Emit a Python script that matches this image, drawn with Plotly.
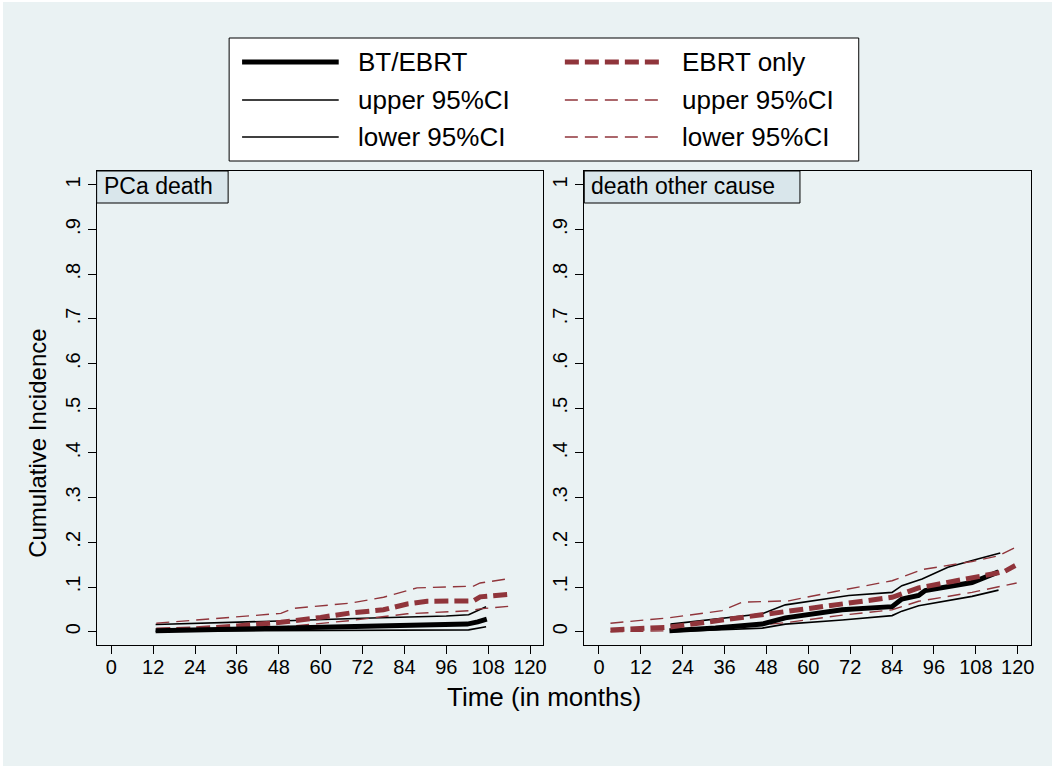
import plotly.graph_objects as go

# ---------------- data ----------------
# Panel 1: PCa death
pca_bt_t = [12.7, 24, 36, 48, 60, 72, 84, 96, 102, 105, 107.6]
pca_bt_v = [0.002, 0.004, 0.005, 0.007, 0.009, 0.011, 0.013, 0.015, 0.017, 0.022, 0.028]
pca_bt_up_t = [12.7, 24, 48, 72, 96, 102.4, 107.4]
pca_bt_up_v = [0.016, 0.019, 0.024, 0.030, 0.035, 0.038, 0.056]
pca_bt_lo_t = [12.7, 48, 84, 102.4, 107.4]
pca_bt_lo_v = [0.001, 0.002, 0.003, 0.004, 0.011]

pca_eb_t = [12.9, 23.8, 36, 48.6, 60, 68.6, 78, 84.8, 90.5, 103.8, 105.7, 114.3]
pca_eb_v = [0.004, 0.006, 0.013, 0.021, 0.032, 0.042, 0.049, 0.062, 0.068, 0.069, 0.078, 0.084]
pca_eb_up_t = [12.9, 22.9, 35, 48.6, 52, 68.6, 78, 84, 87.6, 103.8, 105.7, 114.3]
pca_eb_up_v = [0.019, 0.025, 0.032, 0.041, 0.052, 0.064, 0.077, 0.090, 0.098, 0.102, 0.109, 0.119]
pca_eb_lo_t = [12.9, 35, 48.6, 68.6, 84.8, 103, 105.7, 114.3]
pca_eb_lo_v = [0.000, 0.004, 0.010, 0.025, 0.040, 0.047, 0.051, 0.057]

# Panel 2: death other cause
oth_bt_t = [20.2, 33.4, 46.8, 53.4, 69.7, 84, 86.8, 91.6, 93.5, 100, 106.9, 114.5]
oth_bt_v = [0.002, 0.008, 0.017, 0.031, 0.049, 0.056, 0.073, 0.081, 0.092, 0.100, 0.110, 0.134]
oth_bt_up_t = [20.5, 36.3, 46.8, 53.4, 71.6, 84, 86.8, 92.6, 100, 108.8, 115]
oth_bt_up_v = [0.017, 0.031, 0.040, 0.060, 0.081, 0.088, 0.103, 0.118, 0.144, 0.163, 0.176]
oth_bt_lo_t = [20.5, 36.3, 46.8, 53.4, 69.7, 84, 86.8, 91.6, 106.9, 114.5]
oth_bt_lo_v = [0.000, 0.004, 0.008, 0.017, 0.026, 0.036, 0.046, 0.058, 0.079, 0.093]

oth_eb_t = [3.3, 20, 35.3, 46.8, 54.4, 68.7, 84, 91.6, 103, 109.7, 116, 119.3]
oth_eb_v = [0.004, 0.010, 0.026, 0.038, 0.045, 0.062, 0.077, 0.098, 0.114, 0.125, 0.134, 0.148]
oth_eb_up_t = [3.3, 20, 35.3, 41, 54.4, 67.7, 84, 92.6, 106.9, 114.5, 119.7]
oth_eb_up_v = [0.019, 0.031, 0.047, 0.066, 0.069, 0.090, 0.114, 0.139, 0.157, 0.170, 0.190]
oth_eb_lo_t = [3.3, 20, 35.3, 46.8, 54.4, 68.7, 84, 91.6, 106.9, 116, 119.7]
oth_eb_lo_v = [0.000, 0.002, 0.010, 0.015, 0.021, 0.036, 0.049, 0.068, 0.088, 0.103, 0.109]

panel_titles = ["PCa death", "death other cause"]
legend_labels = ["BT/EBRT", "upper 95%CI", "lower 95%CI", "EBRT only", "upper 95%CI", "lower 95%CI"]
x_ticks = list(range(0, 121, 12))
y_ticks = [0, 0.1, 0.2, 0.3, 0.4, 0.5, 0.6, 0.7, 0.8, 0.9, 1.0]
y_ticklabels = ["0", ".1", ".2", ".3", ".4", ".5", ".6", ".7", ".8", ".9", "1"]

# ---------------- styling ----------------
W, H = 1059, 769
BG = "#EAF2F3"
MAROON = "#90353B"
FONT = "Liberation Sans, Arial, sans-serif"

def px(x):
    return x / W

def py(y):
    return 1 - y / H

XR = [-4.2, 123.7]
YR = [-0.0298, 1.031]
xpm = 3.503  # px per month
left0 = 97.0
right0 = 586.5
pw = (XR[1] - XR[0]) * xpm
top_px, bot_px = 171.0, 645.0

fig = go.Figure()

styles = {
    "bt": dict(color="black", width=5, dash="solid"),
    "bt_ci": dict(color="black", width=1.6, dash="solid"),
    "eb": dict(color=MAROON, width=5, dash="14px,6px"),
    "eb_ci": dict(color=MAROON, width=1.4, dash="13px,7px"),
}

panels = [
    ("x", "y", [(pca_bt_up_t, pca_bt_up_v, "bt_ci", "upper 95%CI"),
                (pca_bt_lo_t, pca_bt_lo_v, "bt_ci", "lower 95%CI"),
                (pca_eb_up_t, pca_eb_up_v, "eb_ci", "upper 95%CI"),
                (pca_eb_lo_t, pca_eb_lo_v, "eb_ci", "lower 95%CI"),
                (pca_eb_t, pca_eb_v, "eb", "EBRT only"),
                (pca_bt_t, pca_bt_v, "bt", "BT/EBRT")]),
    ("x2", "y2", [(oth_bt_up_t, oth_bt_up_v, "bt_ci", "upper 95%CI"),
                  (oth_bt_lo_t, oth_bt_lo_v, "bt_ci", "lower 95%CI"),
                  (oth_eb_up_t, oth_eb_up_v, "eb_ci", "upper 95%CI"),
                  (oth_eb_lo_t, oth_eb_lo_v, "eb_ci", "lower 95%CI"),
                  (oth_bt_t, oth_bt_v, "bt", "BT/EBRT"),
                  (oth_eb_t, oth_eb_v, "eb", "EBRT only")]),
]
for xa, ya, series in panels:
    for t, v, st, name in series:
        fig.add_trace(go.Scatter(x=t, y=v, mode="lines", name=name, line=styles[st],
                                 xaxis=xa, yaxis=ya, showlegend=False, hoverinfo="skip"))

axis_common = dict(showline=True, linecolor="black", linewidth=1, mirror=True,
                   ticks="outside", ticklen=8, tickcolor="black", tickwidth=1,
                   zeroline=False, tickfont=dict(family=FONT, size=20, color="black"))

for i, (xa, ya) in enumerate([("xaxis", "yaxis"), ("xaxis2", "yaxis2")]):
    lpx = left0 if i == 0 else right0
    xdom = [px(lpx), px(lpx + pw)]
    ydom = [py(bot_px), py(top_px)]
    xkw = dict(axis_common, domain=xdom, range=XR, tickvals=x_ticks,
               ticktext=[str(t) for t in x_ticks], showgrid=False,
               ticklabelstandoff=-4, anchor="y" if i == 0 else "y2")
    ykw = dict(axis_common, domain=ydom, range=YR, tickvals=y_ticks,
               ticktext=y_ticklabels, tickangle=-90, showgrid=True,
               gridcolor=BG, gridwidth=1, anchor="x" if i == 0 else "x2")
    fig.update_layout(**{xa: xkw, ya: ykw})

shapes = []
annotations = []

# background inner panel (outer white edge)
shapes.append(dict(type="rect", xref="paper", yref="paper", x0=px(3), x1=px(W - 3),
                   y0=py(H - 3), y1=py(2), fillcolor=BG, line=dict(width=0), layer="below"))

# strip headers
strip_right = [229.0, 803.0]
for i, title in enumerate(panel_titles):
    lpx = left0 if i == 0 else right0
    shapes.append(dict(type="rect", xref="paper", yref="paper", x0=px(lpx), x1=px(strip_right[i]),
                       y0=py(203), y1=py(top_px), fillcolor="#D9E6EB",
                       line=dict(color="black", width=1), layer="above"))
    annotations.append(dict(xref="paper", yref="paper", x=px(lpx + 5), y=py(186),
                            xanchor="left", yanchor="middle", text=title, showarrow=False,
                            font=dict(family=FONT, size=23, color="black")))

# axis titles
annotations.append(dict(xref="paper", yref="paper", x=px(546), y=py(697), text="Time (in months)",
                        showarrow=False, xanchor="center", yanchor="middle",
                        font=dict(family=FONT, size=26, color="black")))
annotations.append(dict(xref="paper", yref="paper", x=px(37), y=py(443), text="Cumulative Incidence",
                        showarrow=False, xanchor="center", yanchor="middle", textangle=-90,
                        font=dict(family=FONT, size=24, color="black")))

# legend box
shapes.append(dict(type="rect", xref="paper", yref="paper", x0=px(230), x1=px(862),
                   y0=py(161), y1=py(38), fillcolor="white", line=dict(color="black", width=1)))
rows_y = [62, 100, 137]
leg_styles = ["bt", "bt_ci", "bt_ci", "eb", "eb_ci", "eb_ci"]
for k, (lab, st) in enumerate(zip(legend_labels, leg_styles)):
    col = k // 3
    row = k % 3
    x0, x1, xt = (243, 340, 357) if col == 0 else (567, 665, 683)
    s = styles[st]
    shapes.append(dict(type="line", xref="paper", yref="paper", x0=px(x0), x1=px(x1),
                       y0=py(rows_y[row]), y1=py(rows_y[row]),
                       line=dict(color=s["color"], width=s["width"], dash=s["dash"])))
    annotations.append(dict(xref="paper", yref="paper", x=px(xt), y=py(rows_y[row]),
                            xanchor="left", yanchor="middle", text=lab, showarrow=False,
                            font=dict(family=FONT, size=26, color="black")))

fig.update_layout(width=W, height=H, margin=dict(l=0, r=0, t=0, b=0),
                  paper_bgcolor="white", plot_bgcolor="white", showlegend=False,
                  shapes=shapes, annotations=annotations)

fig.write_html("out.html", config={"displayModeBar": False},
               post_script="document.body.style.margin='0';")
